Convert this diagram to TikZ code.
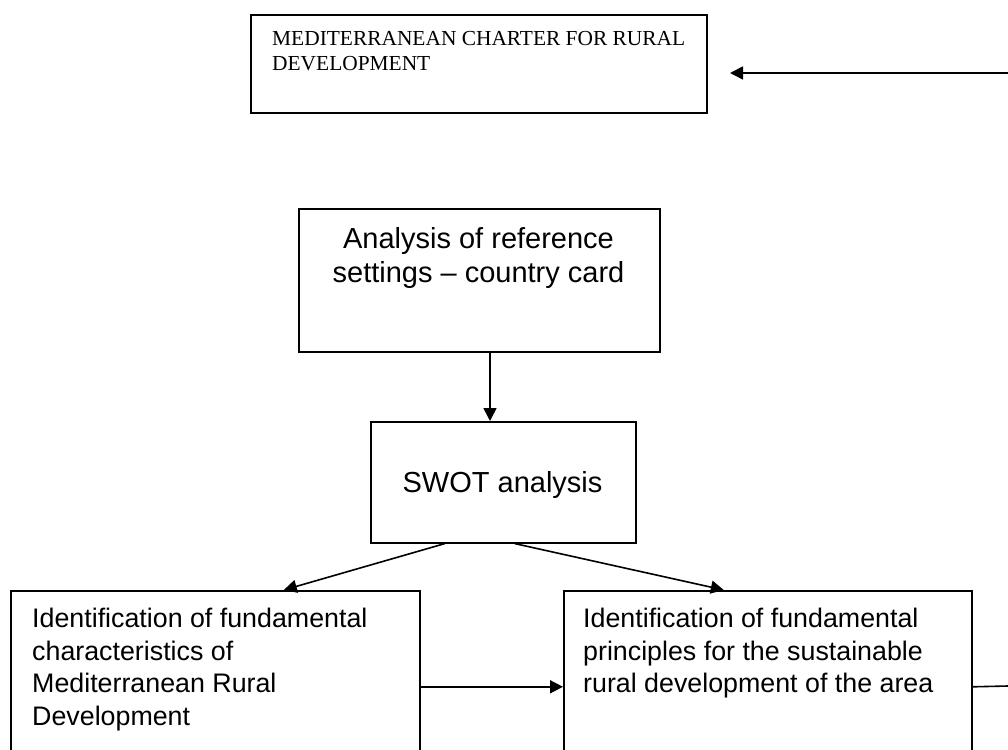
\documentclass[tikz,border=0pt]{standalone}
\usepackage{fontspec}
\setmainfont{Liberation Serif}
\newfontfamily\arialfont{Liberation Sans}
\usetikzlibrary{arrows.meta}

\begin{document}
\begin{tikzpicture}[x=1pt,y=-1pt,
  box/.style={draw=black, line width=1.6pt, rectangle, inner sep=0pt, anchor=north west},
  serifnote/.style={inner sep=0pt, anchor=north west, align=left,
    font=\fontsize{21.4}{25}\selectfont},
  bigtext/.style={inner sep=0pt, align=center,
    font=\arialfont\fontsize{29}{34}\selectfont},
  bodytext/.style={inner sep=0pt, anchor=north west, align=left,
    font=\arialfont\fontsize{26.8}{32.5}\selectfont},
  arr/.style={line width=1.6pt, -{Triangle[length=13pt,width=13pt]}},
  plain/.style={line width=1.6pt}
]
\useasboundingbox (0,0) rectangle (1008,749);
\fill[white] (0,0) rectangle (1008,749);
\clip (0,0) rectangle (1008,749);

% boxes
\node[box, minimum width=456pt, minimum height=98pt] (charter) at (250,14) {};
\node[box, minimum width=361pt, minimum height=143pt] (analysis) at (298,208) {};
\node[box, minimum width=265pt, minimum height=121pt] (swot) at (370,421) {};
\node[box, minimum width=409pt, minimum height=192pt] (charact) at (10,590) {};
\node[box, minimum width=408pt, minimum height=192pt] (princ) at (563,590) {};

% texts
\node[serifnote] (chartertext) at (272,28)
  {\strut MEDITERRANEAN CHARTER FOR RURAL\\\strut DEVELOPMENT};
\node[bigtext, anchor=north] (analysistext) at (478.5,224)
  {\strut Analysis of reference\\\strut settings – country card};
\node[bigtext, anchor=base] (swottext) at (502.5,492) {SWOT analysis};
\node[bodytext] (characttext) at (32,605)
  {\strut Identification of fundamental\\\strut characteristics of\\\strut Mediterranean Rural\\\strut Development};
\node[bodytext] (princtext) at (583,605)
  {\strut Identification of fundamental\\\strut principles for the sustainable\\\strut rural development of the area};

% connectors
\coordinate (rightin) at (1008,73);
\coordinate (chartertip) at (730,73);
\coordinate (rightout) at (1008,686);
\coordinate (downx) at (490,0);

\draw[arr] (rightin) -- (chartertip);
\draw[arr] (analysis.south -| downx) -- (swot.north -| downx);
\draw[arr] ([xshift=-58.5pt]swot.south) -- ([xshift=68.5pt]charact.north);
\draw[arr] ([xshift=11.5pt]swot.south) -- ([xshift=-44pt]princ.north);
\draw[arr] (charact.east) -- (princ.west);
\draw[plain] (princ.east) -- (rightout);
\end{tikzpicture}
\end{document}
